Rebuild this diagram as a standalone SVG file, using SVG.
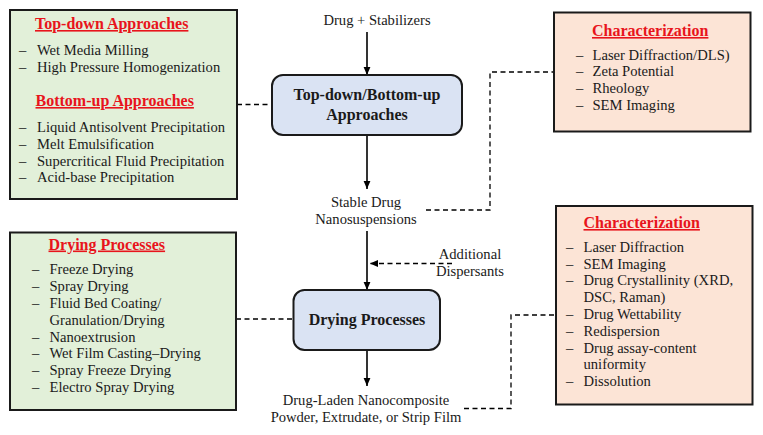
<svg xmlns="http://www.w3.org/2000/svg" width="763" height="435" viewBox="0 0 763 435">
<defs>
<style>
.box{stroke:#1a1a1a;stroke-width:2}
.green{fill:#e2f0d9}
.peach{fill:#fce4d6}
.blue{fill:#dae3f3}
text{font-family:"Liberation Serif","Times New Roman",serif;fill:#1a1a1a}
.t{font-size:14.6px}
.h{font-size:16px;font-weight:bold;fill:#e8141c;text-decoration:underline}
.b{font-size:16px;font-weight:bold;text-anchor:middle}
.c{text-anchor:middle}
.ln{stroke:#000;stroke-width:1.6;fill:none}
.dl{stroke:#000;stroke-width:1.3;fill:none;stroke-dasharray:5 3.5}
</style>
<marker id="ah" viewBox="0 0 8 8" refX="8" refY="4" markerWidth="8" markerHeight="8" markerUnits="userSpaceOnUse" orient="auto">
<path d="M0,0.6 L8,4 L0,7.4 Z" fill="#000"/>
</marker>
</defs>
<rect width="763" height="435" fill="#fff"/>

<g id="connectors">
<line class="ln" x1="367" y1="32" x2="367" y2="75" marker-end="url(#ah)"/>
<line class="ln" x1="367" y1="135" x2="367" y2="189" marker-end="url(#ah)"/>
<line class="ln" x1="367" y1="231" x2="367" y2="290" marker-end="url(#ah)"/>
<line class="ln" x1="367" y1="350" x2="367" y2="386" marker-end="url(#ah)"/>
<line class="dl" x1="452" y1="263.5" x2="370" y2="263.5" marker-end="url(#ah)"/>
<line class="dl" x1="237" y1="104.5" x2="272" y2="104.5"/>
<line class="dl" x1="236" y1="319" x2="293" y2="319"/>
<polyline class="dl" points="426,210 490,210 490,72 554,72"/>
<polyline class="dl" points="464,408.5 511,408.5 511,315 556,315"/>
</g>

<g id="topdown-list">
<rect class="box green" x="10" y="10" width="227" height="189"/>
<text class="h" x="35" y="29">Top-down Approaches</text>
<text class="t" x="19" y="55">–</text><text class="t" x="37" y="55">Wet Media Milling</text>
<text class="t" x="19" y="72">–</text><text class="t" x="37" y="72">High Pressure Homogenization</text>
<text class="h" x="35.5" y="106">Bottom-up Approaches</text>
<text class="t" x="19" y="132">–</text><text class="t" x="37" y="132">Liquid Antisolvent Precipitation</text>
<text class="t" x="19" y="148.8">–</text><text class="t" x="37" y="148.8">Melt Emulsification</text>
<text class="t" x="19" y="165.6">–</text><text class="t" x="37" y="165.6">Supercritical Fluid Precipitation</text>
<text class="t" x="19" y="182.4">–</text><text class="t" x="37" y="182.4">Acid-base Precipitation</text>
</g>

<g id="input-label">
<text class="t c" x="377" y="25">Drug + Stabilizers</text>
</g>

<g id="approaches">
<rect class="box blue" x="272" y="75" width="190" height="60" rx="11"/>
<text class="b" x="367" y="100">Top-down/Bottom-up</text>
<text class="b" x="367" y="120">Approaches</text>
</g>

<g id="characterization-1">
<rect class="box peach" x="554" y="12.5" width="196.5" height="119"/>
<text class="h" x="592" y="36">Characterization</text>
<text class="t" x="576" y="59.5">–</text><text class="t" x="592.5" y="59.5">Laser Diffraction/DLS)</text>
<text class="t" x="576" y="76.3">–</text><text class="t" x="592.5" y="76.3">Zeta Potential</text>
<text class="t" x="576" y="93.1">–</text><text class="t" x="592.5" y="93.1">Rheology</text>
<text class="t" x="576" y="109.9">–</text><text class="t" x="592.5" y="109.9">SEM Imaging</text>
</g>

<g id="nanosuspensions">
<text class="t c" x="366" y="207">Stable Drug</text>
<text class="t c" x="366" y="224">Nanosuspensions</text>
</g>

<g id="dispersants">
<text class="t c" x="470" y="258.5">Additional</text>
<text class="t c" x="470" y="275.5">Dispersants</text>
</g>

<g id="drying-list">
<rect class="box green" x="10" y="232.5" width="226" height="177.5"/>
<text class="h" x="48.5" y="249.5">Drying Processes</text>
<text class="t" x="32" y="274.3">–</text><text class="t" x="49.5" y="274.3">Freeze Drying</text>
<text class="t" x="32" y="291.1">–</text><text class="t" x="49.5" y="291.1">Spray Drying</text>
<text class="t" x="32" y="307.9">–</text><text class="t" x="49.5" y="307.9">Fluid Bed Coating/</text>
<text class="t" x="49.5" y="324.7">Granulation/Drying</text>
<text class="t" x="32" y="341.5">–</text><text class="t" x="49.5" y="341.5">Nanoextrusion</text>
<text class="t" x="32" y="358.3">–</text><text class="t" x="49.5" y="358.3">Wet Film Casting–Drying</text>
<text class="t" x="32" y="375.1">–</text><text class="t" x="49.5" y="375.1">Spray Freeze Drying</text>
<text class="t" x="32" y="391.9">–</text><text class="t" x="49.5" y="391.9">Electro Spray Drying</text>
</g>

<g id="drying">
<rect class="box blue" x="293.5" y="290" width="146.5" height="60" rx="11"/>
<text class="b" x="367" y="325">Drying Processes</text>
</g>

<g id="product">
<text class="t c" x="366" y="405">Drug-Laden Nanocomposite</text>
<text class="t c" x="366" y="421.5">Powder, Extrudate, or Strip Film</text>
</g>

<g id="characterization-2">
<rect class="box peach" x="556" y="206" width="196.5" height="198.5"/>
<text class="h" x="583.5" y="228">Characterization</text>
<text class="t" x="566" y="251.7">–</text><text class="t" x="583.5" y="251.7">Laser Diffraction</text>
<text class="t" x="566" y="268.5">–</text><text class="t" x="583.5" y="268.5">SEM Imaging</text>
<text class="t" x="566" y="285.3">–</text><text class="t" x="583.5" y="285.3">Drug Crystallinity (XRD,</text>
<text class="t" x="583.5" y="302.1">DSC, Raman)</text>
<text class="t" x="566" y="318.9">–</text><text class="t" x="583.5" y="318.9">Drug Wettability</text>
<text class="t" x="566" y="335.7">–</text><text class="t" x="583.5" y="335.7">Redispersion</text>
<text class="t" x="566" y="352.5">–</text><text class="t" x="583.5" y="352.5">Drug assay-content</text>
<text class="t" x="583.5" y="369.3">uniformity</text>
<text class="t" x="566" y="386.1">–</text><text class="t" x="583.5" y="386.1">Dissolution</text>
</g>
</svg>
